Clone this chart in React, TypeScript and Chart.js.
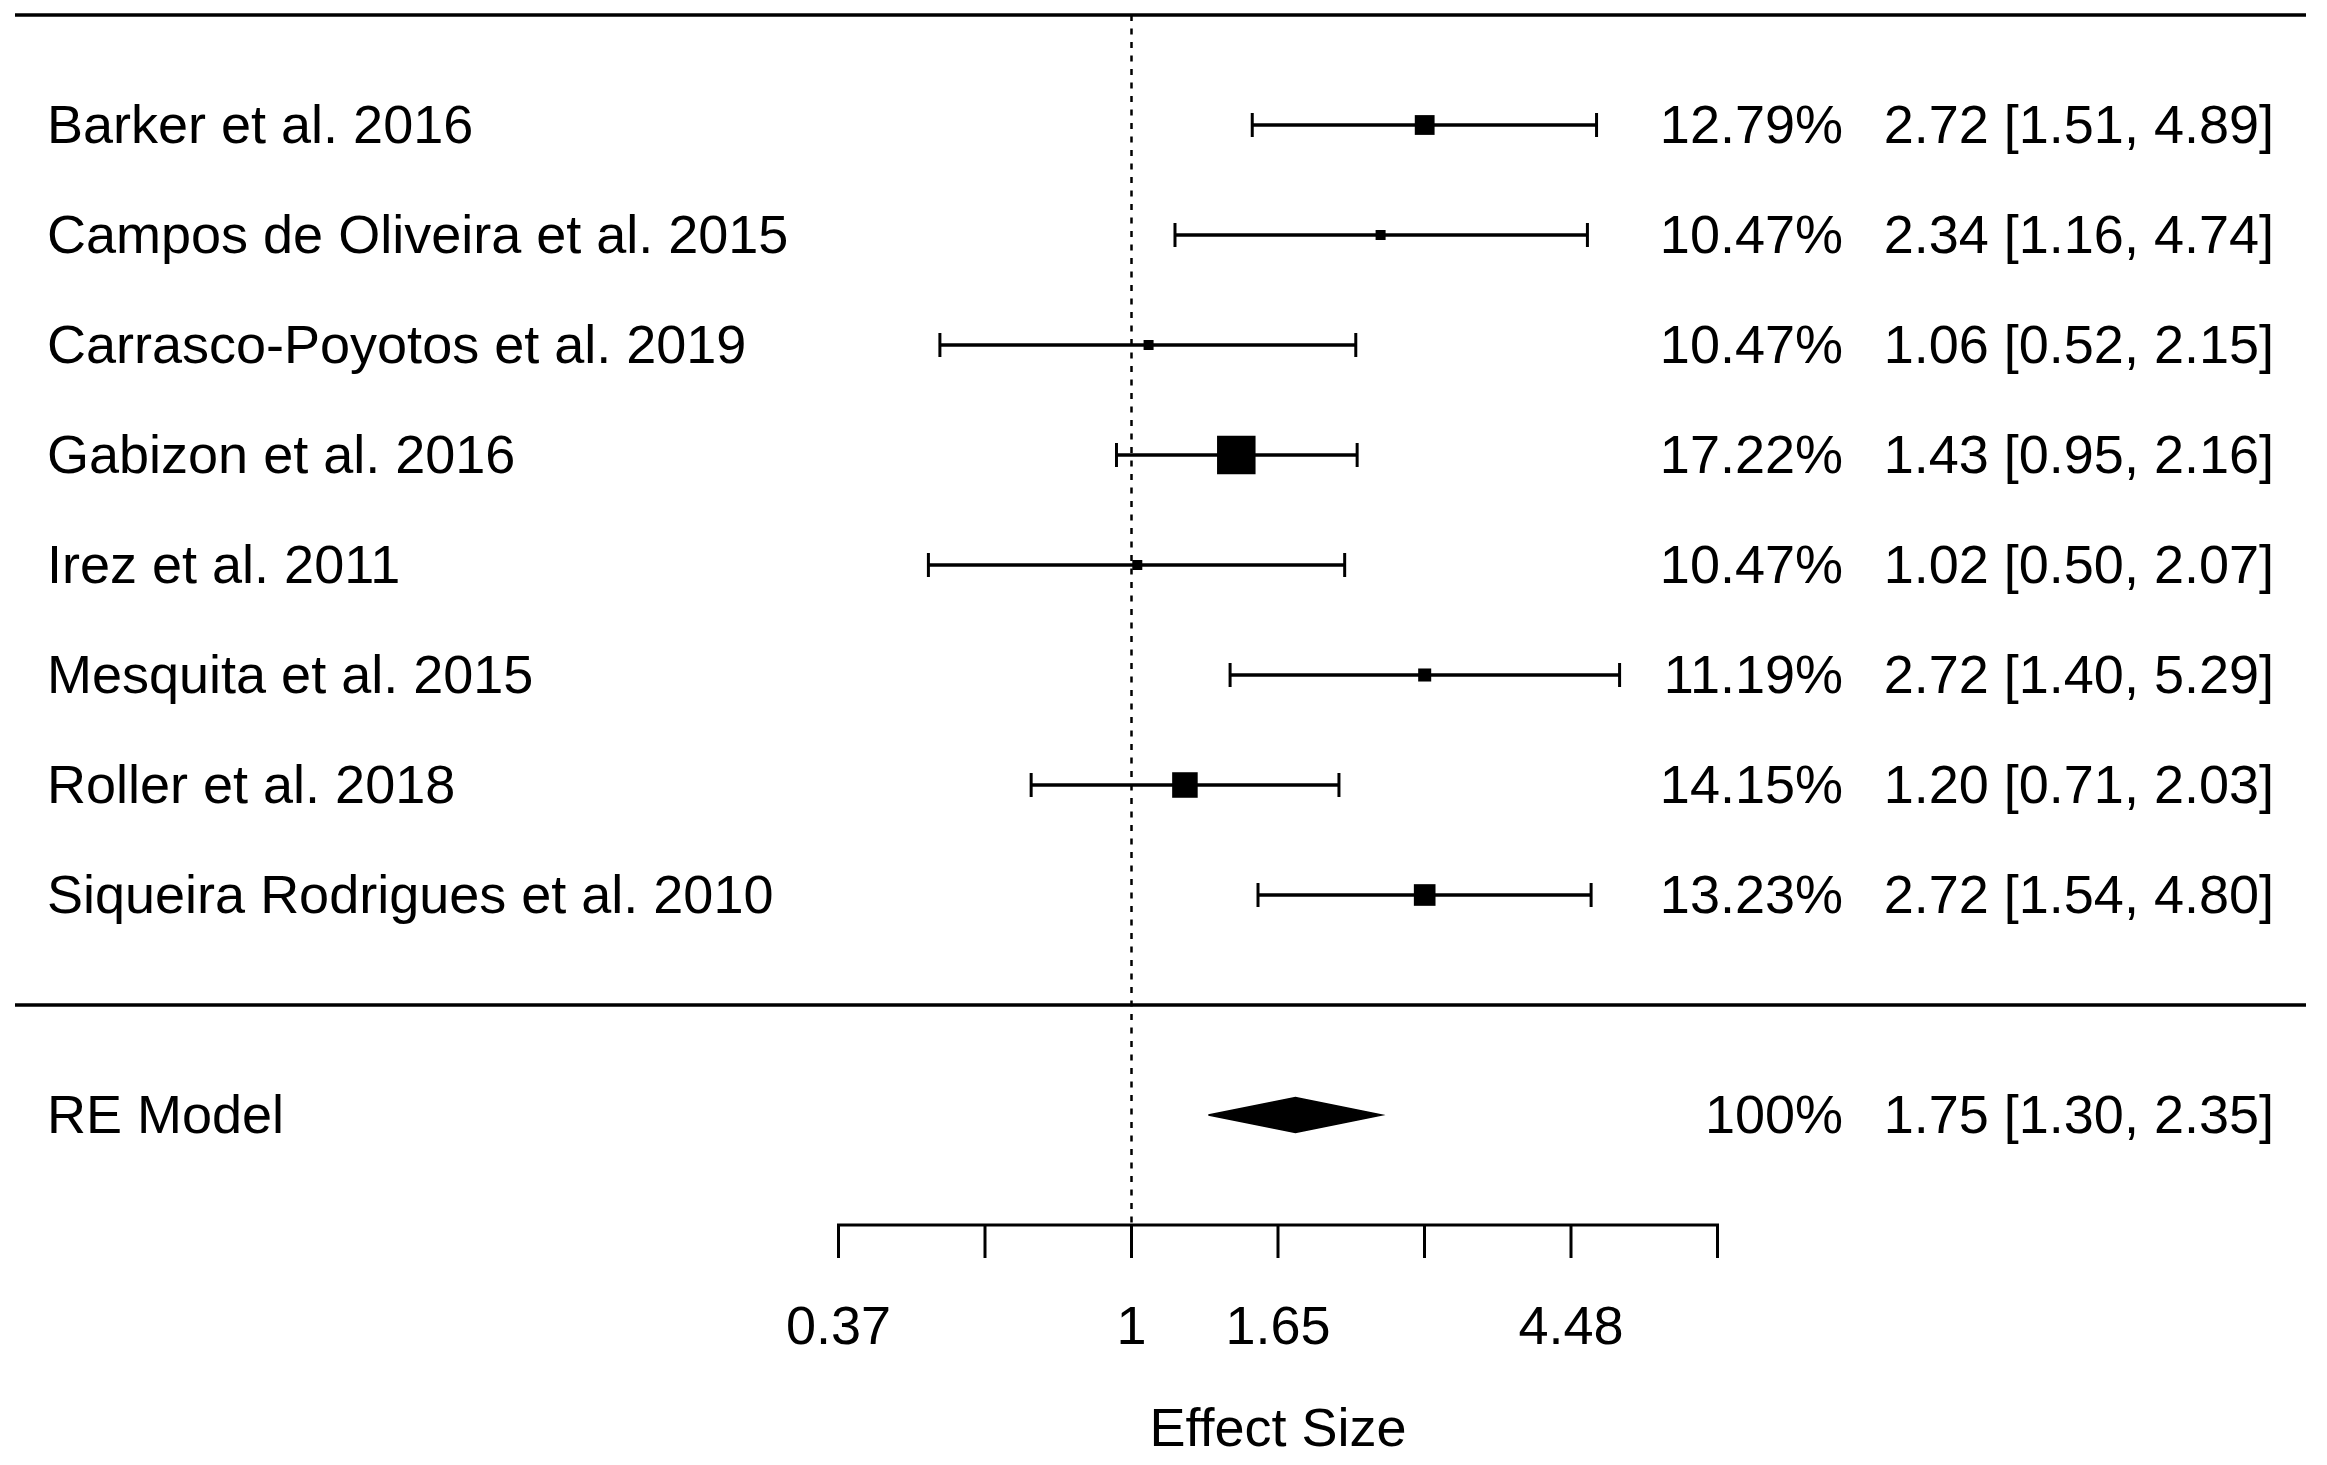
import React, { useEffect, useRef } from 'react';
import { Chart, registerables } from 'chart.js';

Chart.register(...registerables);

// ---------- data ----------
const studies = [
  'Barker et al. 2016',
  'Campos de Oliveira et al. 2015',
  'Carrasco-Poyotos et al. 2019',
  'Gabizon et al. 2016',
  'Irez et al. 2011',
  'Mesquita et al. 2015',
  'Roller et al. 2018',
  'Siqueira Rodrigues et al. 2010',
];
const weights = [12.79, 10.47, 10.47, 17.22, 10.47, 11.19, 14.15, 13.23];
const estimates = [2.72, 2.34, 1.06, 1.43, 1.02, 2.72, 1.2, 2.72];
const lowerCI = [1.51, 1.16, 0.52, 0.95, 0.5, 1.4, 0.71, 1.54];
const upperCI = [4.89, 4.74, 2.15, 2.16, 2.07, 5.29, 2.03, 4.8];

const summaryLabel = 'RE Model';
const summaryWeight = 100;
const summaryEstimate = 1.75;
const summaryLower = 1.3;
const summaryUpper = 2.35;

const referenceValue = 1;
const axisTickLogs = [-1, -0.5, 0, 0.5, 1, 1.5, 2];
const axisTickLabels = ['0.37', '', '1', '1.65', '', '4.48', ''];
const axisTitle = 'Effect Size';

// ---------- layout / style ----------
const W = 2327;
const H = 1465;
const FONT = '54px "Liberation Sans", Arial, sans-serif';
const ROW_TOP = 9;
const ROW_SEP = 0;
const ROW_AXIS = -2;
const SUMMARY_ROW = -1;
const DIAMOND_HALF = 0.16;
const SQ_MIN = 10;
const SQ_RANGE = 28.5;

const n = studies.length;
const rows = studies.map((_, i) => n - i);
const fmt = (v: number) => v.toFixed(2);

const forestPlugin = {
  id: 'forestDecor',
  afterDatasetsDraw(chart: any) {
    const { ctx, chartArea, scales } = chart;
    const xs = scales.x;
    const ys = scales.y;
    ctx.save();
    ctx.strokeStyle = '#000';
    ctx.fillStyle = '#000';
    ctx.lineCap = 'butt';

    // horizontal rules
    ctx.lineWidth = 3.5;
    [ROW_TOP, ROW_SEP].forEach((r) => {
      const y = Math.round(ys.getPixelForValue(r));
      ctx.beginPath();
      ctx.moveTo(chartArea.left, y);
      ctx.lineTo(chartArea.right, y);
      ctx.stroke();
    });

    // bottom axis
    const ay = ys.getPixelForValue(ROW_AXIS);
    const x0 = xs.getPixelForValue(axisTickLogs[0]);
    const x1 = xs.getPixelForValue(axisTickLogs[axisTickLogs.length - 1]);
    ctx.lineWidth = 3.2;
    ctx.beginPath();
    ctx.moveTo(x0 - 1.5, ay);
    ctx.lineTo(x1 + 1.5, ay);
    ctx.stroke();
    ctx.lineWidth = 3;
    axisTickLogs.forEach((t) => {
      const x = xs.getPixelForValue(t);
      ctx.beginPath();
      ctx.moveTo(x, ay);
      ctx.lineTo(x, ay + 33);
      ctx.stroke();
    });

    ctx.font = FONT;
    ctx.textBaseline = 'alphabetic';
    ctx.textAlign = 'center';
    axisTickLogs.forEach((t, i) => {
      if (!axisTickLabels[i]) return;
      ctx.fillText(axisTickLabels[i], xs.getPixelForValue(t), ay + 119);
    });
    ctx.fillText(axisTitle, (x0 + x1) / 2, ay + 221);

    // text columns
    const labelX = 47;
    const pctRight = 1843;
    const valRight = 2274;
    const base = 18;
    studies.forEach((s, i) => {
      const y = ys.getPixelForValue(rows[i]) + base;
      ctx.textAlign = 'left';
      ctx.fillText(s, labelX, y);
      ctx.textAlign = 'right';
      ctx.fillText(`${fmt(weights[i])}%`, pctRight, y);
      ctx.fillText(`${fmt(estimates[i])} [${fmt(lowerCI[i])}, ${fmt(upperCI[i])}]`, valRight, y);
    });
    const sy = ys.getPixelForValue(SUMMARY_ROW) + base;
    ctx.textAlign = 'left';
    ctx.fillText(summaryLabel, labelX, sy);
    ctx.textAlign = 'right';
    ctx.fillText(`${summaryWeight}%`, pctRight, sy);
    ctx.fillText(`${fmt(summaryEstimate)} [${fmt(summaryLower)}, ${fmt(summaryUpper)}]`, valRight, sy);

    ctx.restore();
  },
};

export default function App() {
  const canvasRef = useRef<HTMLCanvasElement | null>(null);

  useEffect(() => {
    document.body.style.margin = '0';
    document.body.style.overflow = 'hidden';
    const canvas = canvasRef.current;
    if (!canvas) return;

    const wMin = Math.min(...weights);
    const wMax = Math.max(...weights);
    const sides = weights.map((w) => SQ_MIN + (SQ_RANGE * (w - wMin)) / (wMax - wMin));

    const datasets: any[] = [];

    // study squares
    datasets.push({
      type: 'scatter',
      order: 0,
      data: estimates.map((e, i) => ({ x: Math.log(e), y: rows[i] })),
      pointStyle: 'rect',
      pointRadius: sides.map((s) => s / Math.SQRT2),
      pointBackgroundColor: '#000',
      pointBorderWidth: 0,
      showLine: false,
    });

    // summary diamond
    datasets.push({
      type: 'line',
      order: 1,
      data: [
        { x: Math.log(summaryLower), y: SUMMARY_ROW },
        { x: Math.log(summaryEstimate), y: SUMMARY_ROW + DIAMOND_HALF },
        { x: Math.log(summaryUpper), y: SUMMARY_ROW },
        { x: Math.log(summaryEstimate), y: SUMMARY_ROW - DIAMOND_HALF },
        { x: Math.log(summaryLower), y: SUMMARY_ROW },
      ],
      borderColor: '#000',
      backgroundColor: '#000',
      borderWidth: 1.5,
      fill: 'shape',
      pointRadius: 0,
      tension: 0,
    });

    // confidence intervals
    studies.forEach((_, i) => {
      datasets.push({
        type: 'line',
        order: 2,
        data: [
          { x: Math.log(lowerCI[i]), y: rows[i] },
          { x: Math.log(upperCI[i]), y: rows[i] },
        ],
        borderColor: '#000',
        borderWidth: 3.5,
        fill: false,
        pointStyle: 'line',
        pointRotation: 90,
        pointRadius: 12,
        pointBorderWidth: 3,
        pointBorderColor: '#000',
        tension: 0,
      });
    });

    // reference line
    datasets.push({
      type: 'line',
      order: 3,
      data: [
        { x: Math.log(referenceValue), y: ROW_TOP },
        { x: Math.log(referenceValue), y: ROW_AXIS },
      ],
      borderColor: '#000',
      borderWidth: 2.5,
      borderDash: [6, 7.5],
      pointRadius: 0,
      fill: false,
    });

    const left = 15;
    const right = 2306;
    const zeroPx = 1131.5;
    const pxPerUnit = 293;

    const chart = new Chart(canvas, {
      type: 'scatter',
      data: { datasets },
      options: {
        animation: false,
        responsive: false,
        devicePixelRatio: 1,
        events: [],
        layout: { autoPadding: false, padding: { left, right: W - right, top: 15, bottom: H - 1225 } },
        plugins: { legend: { display: false }, tooltip: { enabled: false }, title: { display: false } },
        scales: {
          x: {
            type: 'linear',
            display: false,
            bounds: 'data',
            min: (left - zeroPx) / pxPerUnit,
            max: (right - zeroPx) / pxPerUnit,
          },
          y: {
            type: 'linear',
            display: false,
            bounds: 'data',
            min: ROW_AXIS,
            max: ROW_TOP,
          },
        },
      } as any,
      plugins: [forestPlugin],
    });

    return () => chart.destroy();
  }, []);

  return (
    <div style={{ position: 'absolute', left: 0, top: 0, width: W, height: H, background: '#fff' }}>
      <canvas ref={canvasRef} width={W} height={H} style={{ width: W, height: H, display: 'block' }} />
    </div>
  );
}
